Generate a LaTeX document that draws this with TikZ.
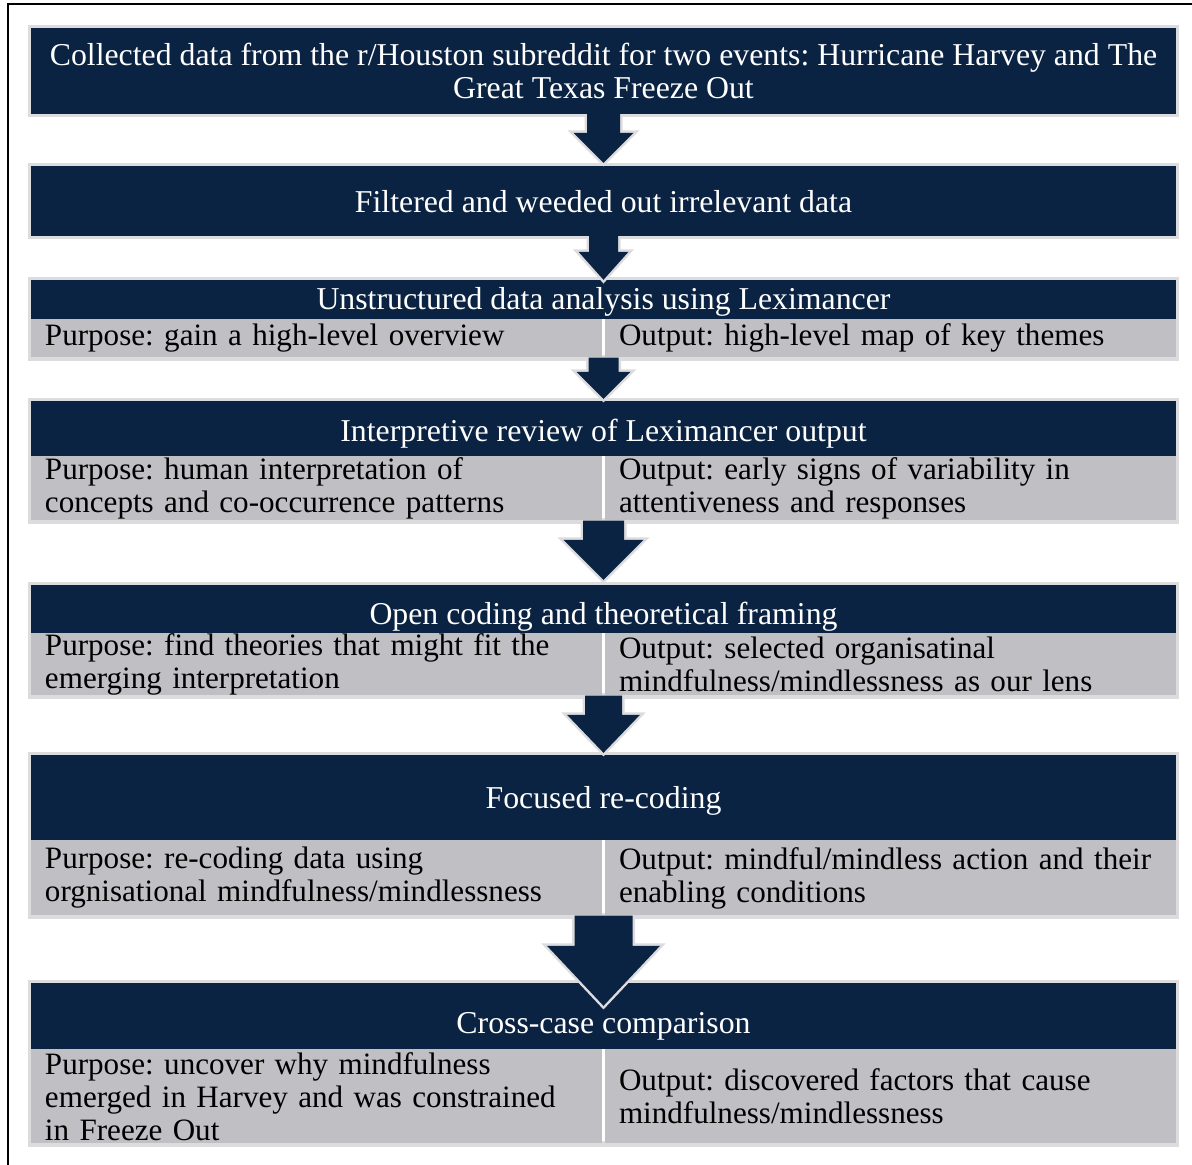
\documentclass[tikz,border=0pt]{standalone}
\usepackage{fontspec}
\setmainfont{Liberation Serif}
\usetikzlibrary{positioning,calc,backgrounds}

\definecolor{navy}{HTML}{0B2342}
\definecolor{cellgray}{HTML}{BFBFC4}
\definecolor{rim}{HTML}{DCDCDE}

\tikzset{
  head/.style={fill=navy, text=white, minimum width=1145pt, inner sep=0pt, align=center, text depth=7pt},
  cell/.style={fill=cellgray, text=black, text width=543pt, inner xsep=14pt, inner ysep=0pt, align=left,
    font=\fontsize{31.1}{33}\selectfont},
  rimline/.style={draw=rim, line width=6pt},
  flow/.style={fill=navy, preaction={draw=rim, line width=5pt}},
}

% block arrow: from, to, tip offset, shaft half width, head half width, head length
\newcommand{\blockarrow}[6]{%
  \path[flow] ($(#1)+(-#4,0)$) -- ($(#2)+(-#4,#3-#6)$) -- ($(#2)+(-#5,#3-#6)$)
    -- ($(#2)+(0,#3)$) -- ($(#2)+(#5,#3-#6)$) -- ($(#2)+(#4,#3-#6)$) -- ($(#1)+(#4,0)$);}

\begin{document}
\frenchspacing
\begin{tikzpicture}[x=1pt, y=-1pt, font=\fontsize{31.8}{33}\selectfont]
\useasboundingbox (0,0) rectangle (1192,1165);
\def\xm{603.5}

% frame
\draw[line width=1.5pt] (8,1165) -- (8,4) -- (1192,4);

% steps
\node[head, minimum height=86pt, text depth=0pt] (h1) at (\xm,71)
  {Collected data from the r/Houston subreddit for two events: Hurricane Harvey and The\\Great Texas Freeze Out};
\node[head, minimum height=70pt, text depth=0pt] (h2) at (\xm,201) {Filtered and weeded out irrelevant data};

\node[head, minimum height=39pt, text height=26pt] (h3) at (\xm,299.5) {Unstructured data analysis using Leximancer};
\node[cell, minimum height=38pt, anchor=north west] (p3) at (h3.south west) {Purpose: gain a high-level overview};
\node[cell, minimum height=38pt, anchor=north east] (o3) at (h3.south east) {Output: high-level map of key themes};

\node[head, minimum height=55pt, text height=32pt] (h4) at (\xm,428.5) {Interpretive review of Leximancer output};
\node[cell, minimum height=64pt, anchor=north west] (p4) at (h4.south west)
  {Purpose: human interpretation of\\concepts and co-occurrence patterns};
\node[cell, minimum height=64pt, anchor=north east] (o4) at (h4.south east)
  {Output: early signs of variability in\\attentiveness and responses};

\node[head, minimum height=48pt, text height=38pt] (h5) at (\xm,609) {Open coding and theoretical framing};
\node[cell, minimum height=62pt, anchor=north west] (p5) at (h5.south west)
  {Purpose: find theories that might fit the\\emerging interpretation};
\node[cell, minimum height=62pt, anchor=north east] (o5) at (h5.south east)
  {Output: selected organisatinal\\mindfulness/mindlessness as our lens};

\node[head, minimum height=85pt, text height=28pt] (h6) at (\xm,797.5) {Focused re-coding};
\node[cell, minimum height=75pt, anchor=north west] (p6) at (h6.south west)
  {Purpose: re-coding data using\\orgnisational mindfulness/mindlessness};
\node[cell, minimum height=75pt, anchor=north east] (o6) at (h6.south east)
  {Output: mindful/mindless action and their\\enabling conditions};

\node[head, minimum height=66pt, text height=41pt] (h7) at (\xm,1016) {Cross-case comparison};
\node[cell, minimum height=94pt, anchor=north west] (p7) at (h7.south west)
  {Purpose: uncover why mindfulness\\emerged in Harvey and was constrained\\in Freeze Out};
\node[cell, minimum height=94pt, anchor=north east] (o7) at (h7.south east)
  {Output: discovered factors that cause\\mindfulness/mindlessness};

% light rims behind the boxes
\begin{scope}[on background layer]
\foreach \t/\b in {h1/h1, h2/h2, h3/o3, h4/o4, h5/o5, h6/o6, h7/o7}
  \draw[rimline] (\t.north west) rectangle (\b.south east);
\end{scope}

% bottoms of the boxes with cells
\coordinate (b3) at (h3.south |- p3.south);
\coordinate (b4) at (h4.south |- p4.south);
\coordinate (b5) at (h5.south |- p5.south);
\coordinate (b6) at (h6.south |- p6.south);

% arrows
\blockarrow{h1.south}{h2.north}{-3}{16.5}{30}{30}
\blockarrow{h2.south}{h3.north}{0}{14.5}{25}{28}
\blockarrow{b3}{h4.north}{-2}{15}{27}{27}
\blockarrow{b4}{h5.north}{-5}{20.5}{40}{40}
\blockarrow{b5}{h6.north}{-2}{18.5}{36.5}{38}
\blockarrow{b6}{h7.north}{23}{29}{56.5}{60}
\end{tikzpicture}
\end{document}
